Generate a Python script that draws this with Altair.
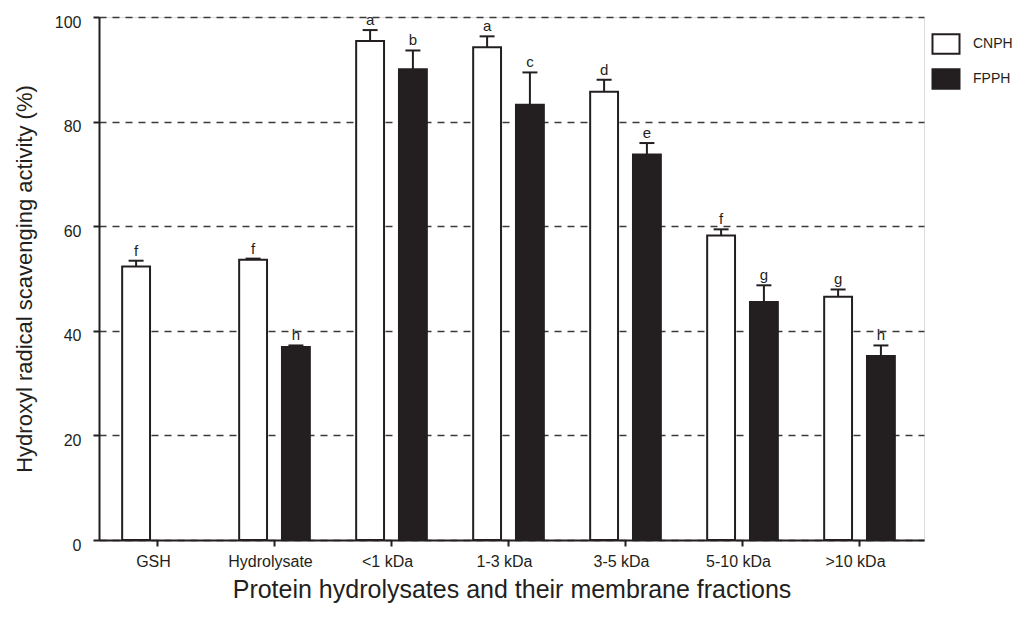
import altair as alt
import pandas as pd

groups = ["GSH", "Hydrolysate", "<1 kDa", "1-3 kDa", "3-5 kDa", "5-10 kDa", ">10 kDa"]
series = ["CNPH", "FPPH"]
cnph = [52.3, 53.6, 95.4, 94.2, 85.7, 58.2, 46.5]
cnph_err = [1.1, 0.2, 2.1, 2.1, 2.3, 1.2, 1.4]
cnph_letters = ["f", "f", "a", "a", "d", "f", "g"]
fpph = [None, 36.9, 90.0, 83.2, 73.7, 45.5, 35.2]
fpph_err = [None, 0.3, 3.6, 6.2, 2.2, 3.2, 2.0]
fpph_letters = [None, "h", "b", "c", "e", "g", "h"]

rows = []
for i, g in enumerate(groups):
    rows.append({"group": g, "series": "CNPH", "value": cnph[i], "err": cnph_err[i],
                 "top": cnph[i] + cnph_err[i], "letter": cnph_letters[i]})
    if fpph[i] is not None:
        rows.append({"group": g, "series": "FPPH", "value": fpph[i], "err": fpph_err[i],
                     "top": fpph[i] + fpph_err[i], "letter": fpph_letters[i]})
df = pd.DataFrame(rows)

FONT = "Liberation Sans"
INK = "#231f20"
YTITLE = "Hydroxyl radical scavenging activity (%)"

x_enc = alt.X("group:N", sort=groups,
              scale=alt.Scale(paddingInner=0, paddingOuter=0.0256, align=0),
              title="Protein hydrolysates and their membrane fractions",
              axis=alt.Axis(labelAngle=0, labelFontSize=16, labelFont=FONT, labelColor=INK,
                            labelPadding=7, labelOffset=-4,
                            titleFontSize=25, titleFont=FONT, titleFontWeight="normal",
                            titleColor=INK, titlePadding=8,
                            domainColor=INK, domainWidth=2, tickColor=INK,
                            tickWidth=2, tickSize=6))
xo_enc = alt.XOffset("series:N", scale=alt.Scale(domain=series, paddingInner=0.349, paddingOuter=0.541))
y_scale = alt.Scale(domain=[0, 100])
y_axis = alt.Axis(values=[0, 20, 40, 60, 80, 100], labelFontSize=16, labelFont=FONT,
                  labelColor=INK, labelPadding=12, labelOffset=5,
                  titleFontSize=22, titleFont=FONT, titleFontWeight="normal",
                  titleColor=INK, titlePadding=18,
                  domainColor=INK, domainWidth=2, tickColor=INK,
                  tickWidth=2, tickSize=6,
                  grid=True, gridDash=[7, 6], gridColor="#3a3a3a", gridWidth=1.3)

base = alt.Chart(df).encode(x=x_enc, xOffset=xo_enc)

bars = base.mark_bar(stroke=INK, strokeWidth=2).encode(
    y=alt.Y("value:Q", scale=y_scale, axis=y_axis, title=YTITLE),
    fill=alt.Fill("series:N", scale=alt.Scale(domain=series, range=["white", INK]),
                  legend=alt.Legend(title=None, orient="none", legendX=836, legendY=16,
                                    symbolType="M-1.4,-1H1.4V1H-1.4Z", symbolSize=372,
                                    symbolStrokeColor=INK, symbolStrokeWidth=2,
                                    labelFontSize=14, labelFont=FONT, labelColor=INK,
                                    labelOffset=16, rowPadding=7, padding=0)),
)
rules = base.mark_rule(color=INK, strokeWidth=2).encode(
    y=alt.Y("value:Q", scale=y_scale, title=YTITLE), y2="top:Q")
caps = base.mark_tick(color=INK, thickness=2, size=15, opacity=1).encode(
    y=alt.Y("top:Q", scale=y_scale, title=YTITLE))
labels = base.mark_text(dy=-5, baseline="alphabetic", fontSize=15, font=FONT, color=INK).encode(
    y=alt.Y("top:Q", scale=y_scale, title=YTITLE), text="letter:N")

chart = alt.layer(bars, rules, caps, labels).properties(width=825, height=523).configure_view(
    stroke=None).configure(background="white")

chart.save("out.html", embed_options={"renderer": "svg", "actions": False})
